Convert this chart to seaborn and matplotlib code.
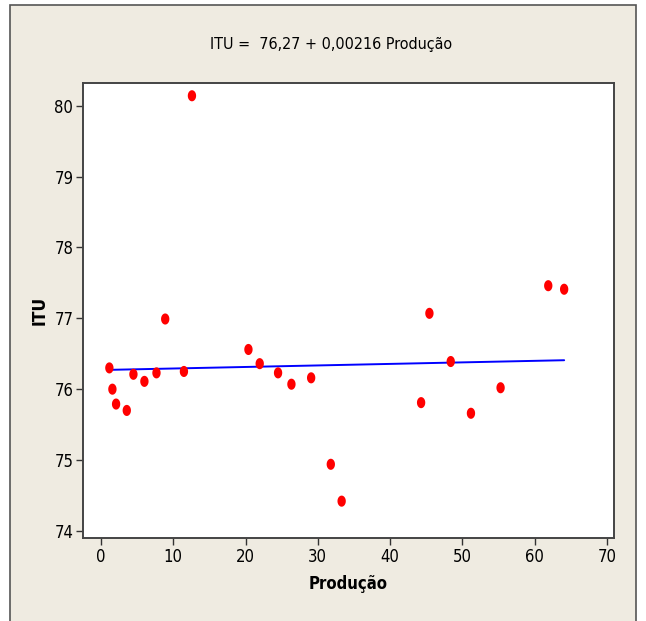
import numpy as np
import pandas as pd
import matplotlib
matplotlib.use('Agg')
import matplotlib.pyplot as plt
import seaborn as sns
from matplotlib.patches import Rectangle

# ------------------------------------------------------------
# dados
# ------------------------------------------------------------
producao = [1.15, 1.57, 2.08, 3.56, 4.48, 6.0, 7.67, 8.88, 11.47, 12.58,
            20.4, 21.96, 24.5, 26.35, 29.08, 31.8, 33.3,
            44.3, 45.45, 48.4, 51.2, 55.3, 61.9, 64.1]
itu = [76.30, 76.00, 75.79, 75.70, 76.21, 76.11, 76.23, 76.99, 76.25, 80.14,
       76.56, 76.36, 76.23, 76.07, 76.16, 74.94, 74.42,
       75.81, 77.07, 76.39, 75.66, 76.02, 77.46, 77.41]

intercepto = 76.27
inclinacao = 0.00216

x_ticks = [0, 10, 20, 30, 40, 50, 60, 70]
y_ticks = [74, 75, 76, 77, 78, 79, 80]

df = pd.DataFrame({'Produção': producao, 'ITU': itu})

# reta ajustada
fit_x = np.array([min(producao), max(producao)])
fit_y = intercepto + inclinacao * fit_x

# ------------------------------------------------------------
# figura
# ------------------------------------------------------------
sns.set_style('white')
plt.rcParams['font.family'] = ['DejaVu Sans']
plt.rcParams['font.stretch'] = 'condensed'
plt.rcParams['text.color'] = 'black'
plt.rcParams['axes.labelcolor'] = 'black'

bege = '#EFEBE1'
fig = plt.figure(figsize=(6.46, 6.21), dpi=100)
fig.patch.set_facecolor('white')
fig.patches.append(Rectangle((10 / 646, -0.05), 626 / 646, 1.05 - 5 / 621,
                             transform=fig.transFigure, facecolor=bege,
                             edgecolor='#555555', lw=1.2, zorder=-10))

ax = fig.add_axes([83 / 646, 1 - 538 / 621, 531 / 646, 455 / 621])
ax.set_facecolor('white')

t = np.linspace(0, 2 * np.pi, 40)
elipse = list(zip(0.75 * np.cos(t), np.sin(t)))

ax.plot(fit_x, fit_y, color='#0000FF', lw=1.4, zorder=2)
sns.scatterplot(data=df, x='Produção', y='ITU', color='#FF0000',
                marker=elipse, s=64, edgecolor='none', zorder=3, ax=ax)

ax.set_xlim(-2.5, 71.0)
ax.set_ylim(73.9, 80.32)
ax.set_xticks(x_ticks)
ax.set_yticks(y_ticks)
ax.tick_params(axis='both', direction='out', length=5, width=1,
               color='#333333', labelsize=12, labelcolor='black',
               bottom=True, left=True, pad=2)

for sp in ax.spines.values():
    sp.set_color('#444444')
    sp.set_linewidth(1.4)

ax.set_xlabel('Produção', fontsize=12, fontweight='bold', labelpad=7)
ax.set_ylabel('ITU', fontsize=12.5, fontweight='bold', labelpad=4)

fig.text(331 / 646, 1 - 44 / 621, 'ITU =  76,27 + 0,00216 Produção',
         ha='center', va='center', fontsize=11.5)

fig.savefig('out.png', dpi=100, facecolor=fig.get_facecolor())
